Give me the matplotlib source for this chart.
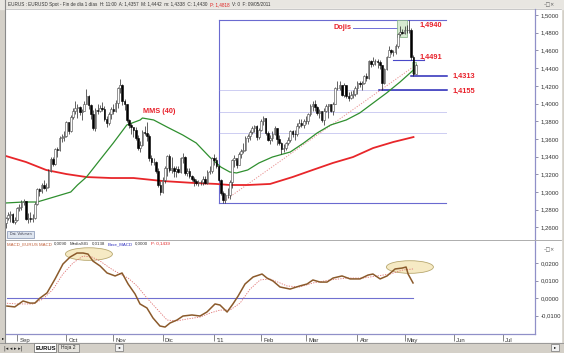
import numpy as np
import pandas as pd
import matplotlib
matplotlib.use("Agg")
import matplotlib.pyplot as plt
from matplotlib.patches import Rectangle, Ellipse
from matplotlib.transforms import blended_transform_factory

plt.rcParams["font.family"] = ["Liberation Sans", "DejaVu Sans"]

# ------------------------------------------------------------
# datos: EURUSD diario (25/08/2010 - 09/05/2011)
# ------------------------------------------------------------
first_date = "2010-08-25"
last_date = "2011-05-09"
first_open = 1.2650

closes = [
    1.2710, 1.2740, 1.2750, 1.2660, 1.2680,  # ago
    1.2820, 1.2830, 1.2890, 1.2900, 1.2690, 1.2710, 1.2690, 1.2710, 1.2870, 1.3030, 1.3010,
    1.3080, 1.3050, 1.3060, 1.3240, 1.3370, 1.3320, 1.3490, 1.3480, 1.3610, 1.3620, 1.3630,  # sep
    1.3790, 1.3690, 1.3850, 1.3910, 1.3950, 1.3960, 1.3900, 1.3920, 1.4000, 1.4090, 1.3980,
    1.3880, 1.3720, 1.3930, 1.3920, 1.3950, 1.3940, 1.3830, 1.3780, 1.3880, 1.3940,  # oct
    1.3920, 1.4010, 1.4180, 1.4210, 1.4030, 1.3990, 1.3810, 1.3760, 1.3740, 1.3700, 1.3610,
    1.3500, 1.3530, 1.3680, 1.3670, 1.3630, 1.3380, 1.3340, 1.3340, 1.3240, 1.3080, 1.3000,  # nov
    1.3130, 1.3270, 1.3410, 1.3250, 1.3270, 1.3240, 1.3260, 1.3230, 1.3380, 1.3390, 1.3210,
    1.3240, 1.3180, 1.3150, 1.3120, 1.3100, 1.3110, 1.3110, 1.3150, 1.3100, 1.3230, 1.3240, 1.3380,  # dic
    1.3360, 1.3290, 1.3140, 1.2990, 1.2910, 1.2970, 1.2970, 1.3110, 1.3360, 1.3380, 1.3310,
    1.3430, 1.3460, 1.3480, 1.3610, 1.3630, 1.3680, 1.3720, 1.3750, 1.3620, 1.3700,  # ene
    1.3800, 1.3840, 1.3670, 1.3590, 1.3610, 1.3660, 1.3720, 1.3600, 1.3550, 1.3490, 1.3500,
    1.3550, 1.3590, 1.3690, 1.3660, 1.3650, 1.3750, 1.3780, 1.3760, 1.3800,  # feb
    1.3800, 1.3880, 1.3970, 1.3990, 1.3960, 1.3890, 1.3910, 1.3810, 1.3920, 1.3970, 1.3990,
    1.3920, 1.4000, 1.4180, 1.4180, 1.4210, 1.4100, 1.4210, 1.4090, 1.4060, 1.4100, 1.4110, 1.4170,  # mar
    1.4230, 1.4220, 1.4230, 1.4310, 1.4290, 1.4480, 1.4450, 1.4480, 1.4480, 1.4470, 1.4430,
    1.4230, 1.4390, 1.4530, 1.4600, 1.4580, 1.4580, 1.4650, 1.4780, 1.4810, 1.4800,  # abr
    1.4830, 1.4830, 1.4830, 1.4530, 1.4330, 1.4430,  # may
]
highs = [
    1.2720, 1.2770, 1.2780, 1.2760, 1.2720,
    1.2830, 1.2860, 1.2910, 1.2920, 1.2900, 1.2760, 1.2770, 1.2750, 1.2890, 1.3050, 1.3050,
    1.3100, 1.3130, 1.3100, 1.3260, 1.3390, 1.3390, 1.3500, 1.3510, 1.3630, 1.3650, 1.3690,
    1.3800, 1.3790, 1.3870, 1.3950, 1.4030, 1.3990, 1.3970, 1.3940, 1.4030, 1.4160, 1.4100,
    1.3990, 1.3930, 1.3950, 1.4000, 1.3980, 1.4020, 1.3970, 1.3860, 1.3900, 1.3960,
    1.3990, 1.4040, 1.4190, 1.4280, 1.4220, 1.4050, 1.4000, 1.3830, 1.3780, 1.3740, 1.3730,
    1.3640, 1.3580, 1.3700, 1.3750, 1.3790, 1.3650, 1.3420, 1.3380, 1.3350, 1.3270, 1.3120,
    1.3170, 1.3290, 1.3420, 1.3430, 1.3400, 1.3290, 1.3290, 1.3290, 1.3400, 1.3440, 1.3410,
    1.3270, 1.3270, 1.3190, 1.3170, 1.3150, 1.3140, 1.3130, 1.3180, 1.3180, 1.3250, 1.3290, 1.3400,
    1.3430, 1.3400, 1.3300, 1.3150, 1.3010, 1.2990, 1.3040, 1.3130, 1.3370, 1.3420, 1.3360,
    1.3450, 1.3490, 1.3550, 1.3630, 1.3660, 1.3700, 1.3750, 1.3760, 1.3760, 1.3720,
    1.3820, 1.3860, 1.3840, 1.3690, 1.3640, 1.3690, 1.3750, 1.3720, 1.3640, 1.3560, 1.3540,
    1.3570, 1.3620, 1.3700, 1.3700, 1.3700, 1.3780, 1.3820, 1.3830, 1.3830,
    1.3860, 1.3890, 1.3990, 1.4030, 1.4040, 1.3970, 1.3940, 1.3910, 1.3950, 1.4000, 1.4000,
    1.4000, 1.4020, 1.4190, 1.4250, 1.4250, 1.4210, 1.4230, 1.4210, 1.4130, 1.4140, 1.4150, 1.4200,
    1.4250, 1.4250, 1.4250, 1.4320, 1.4340, 1.4490, 1.4490, 1.4520, 1.4500, 1.4500, 1.4490,
    1.4430, 1.4400, 1.4540, 1.4650, 1.4620, 1.4610, 1.4670, 1.4800, 1.4880, 1.4840,
    1.4880, 1.4890, 1.4940, 1.4850, 1.4550, 1.4442,
]
lows = [
    1.2590, 1.2680, 1.2660, 1.2650, 1.2640,
    1.2670, 1.2790, 1.2800, 1.2850, 1.2680, 1.2650, 1.2660, 1.2660, 1.2700, 1.2850, 1.2960,
    1.2990, 1.3030, 1.3010, 1.3040, 1.3230, 1.3290, 1.3310, 1.3400, 1.3460, 1.3570, 1.3580,
    1.3620, 1.3660, 1.3680, 1.3830, 1.3880, 1.3840, 1.3870, 1.3810, 1.3910, 1.3990, 1.3940,
    1.3830, 1.3700, 1.3690, 1.3880, 1.3900, 1.3920, 1.3800, 1.3740, 1.3760, 1.3820,
    1.3880, 1.3900, 1.3950, 1.4120, 1.3980, 1.3930, 1.3790, 1.3720, 1.3650, 1.3620, 1.3590,
    1.3470, 1.3450, 1.3520, 1.3640, 1.3580, 1.3350, 1.3300, 1.3300, 1.3220, 1.3060, 1.2970,
    1.2990, 1.3100, 1.3180, 1.3230, 1.3220, 1.3170, 1.3170, 1.3210, 1.3220, 1.3330, 1.3190,
    1.3180, 1.3160, 1.3120, 1.3070, 1.3080, 1.3070, 1.3080, 1.3080, 1.3090, 1.3090, 1.3200, 1.3220,
    1.3300, 1.3270, 1.3120, 1.2970, 1.2880, 1.2874, 1.2930, 1.2920, 1.3050, 1.3280, 1.3270,
    1.3300, 1.3380, 1.3440, 1.3460, 1.3570, 1.3590, 1.3650, 1.3680, 1.3590, 1.3600,
    1.3690, 1.3760, 1.3640, 1.3580, 1.3540, 1.3580, 1.3640, 1.3530, 1.3530, 1.3430, 1.3450,
    1.3480, 1.3530, 1.3570, 1.3620, 1.3590, 1.3630, 1.3720, 1.3740, 1.3720,
    1.3770, 1.3770, 1.3860, 1.3920, 1.3920, 1.3870, 1.3840, 1.3790, 1.3760, 1.3900, 1.3840,
    1.3900, 1.3870, 1.4000, 1.4150, 1.4150, 1.4090, 1.4070, 1.4060, 1.4030, 1.4050, 1.4060, 1.4090,
    1.4110, 1.4190, 1.4150, 1.4220, 1.4250, 1.4280, 1.4410, 1.4420, 1.4430, 1.4400, 1.4390,
    1.4155, 1.4220, 1.4380, 1.4520, 1.4560, 1.4540, 1.4560, 1.4630, 1.4760, 1.4780,
    1.4780, 1.4800, 1.4800, 1.4491, 1.4313, 1.4338,
]

# medias moviles (indice de dia habil desde 01/09/2010, precio)
ma40_idx = [-5, 3, 9, 15, 24, 27, 31, 37, 43, 49, 55, 56, 61, 67, 74, 80, 86, 91, 95,
            98, 103, 108, 114, 122, 128, 134, 140, 147, 153, 159, 165, 171, 177]
ma40_val = [1.2876, 1.2887, 1.2887, 1.2932, 1.3000, 1.3079, 1.3169, 1.3362, 1.3554, 1.3757,
            1.3814, 1.3836, 1.3814, 1.3734, 1.3644, 1.3554, 1.3395, 1.3282, 1.3226, 1.3215,
            1.3249, 1.3328, 1.3395, 1.3452, 1.3554, 1.3667, 1.3757, 1.3814, 1.3893, 1.4006,
            1.4119, 1.4243, 1.4379]
ma200_idx = [-5, 4, 13, 22, 31, 42, 52, 65, 79, 89, 95, 103, 113, 123, 132, 141, 150,
             159, 168, 177]
ma200_val = [1.3407, 1.3339, 1.3249, 1.3203, 1.3169, 1.3158, 1.3158, 1.3124, 1.3102, 1.3091,
             1.3079, 1.3079, 1.3091, 1.3169, 1.3249, 1.3328, 1.3395, 1.3497, 1.3565, 1.3621]

# MACD y señal
macd_idx = [-4.5, -1, 2.7, 5.8, 8, 10.3, 13.4, 17, 20.5, 23.7, 26.8, 29.5, 31.7, 33.9, 37.1,
            40.2, 43.8, 46.9, 49.6, 52.7, 54.9, 58, 60.7, 63.8, 66.1, 68.3, 71.4, 74.1, 78.1,
            81.7, 84.8, 88.4, 90.6, 93.8, 96.4, 98.7, 101.8, 105.4, 109.4, 111.6, 114.3,
            117.4, 121.9, 126.3, 129.5, 132.1, 135.3, 138.4, 141.1, 145.1, 148.7, 153.1,
            156.7, 158.9, 162.1, 165.2, 168.8, 171.9, 173.7, 174.6, 176.8]
macd_val = [-0.0046, -0.0051, -0.0017, -0.0029, -0.0029, 0.0000, 0.0029, 0.0109, 0.0194,
            0.0234, 0.0257, 0.0257, 0.0251, 0.0211, 0.0183, 0.0143, 0.0126, 0.0143, 0.0080,
            0.0023, -0.0034, -0.0057, -0.0114, -0.0160, -0.0166, -0.0143, -0.0126, -0.0103,
            -0.0097, -0.0103, -0.0080, -0.0034, -0.0040, -0.0080, -0.0034, 0.0011, 0.0080,
            0.0120, 0.0137, 0.0114, 0.0097, 0.0063, 0.0051, 0.0069, 0.0080, 0.0103, 0.0091,
            0.0091, 0.0114, 0.0126, 0.0109, 0.0109, 0.0131, 0.0137, 0.0109, 0.0126, 0.0166,
            0.0171, 0.0177, 0.0137, 0.0086]
signal_idx = [-4.5, 0, 7.1, 11.6, 16.1, 20.5, 25, 29.5, 33.5, 37.1, 41.5, 46, 49.6, 53.6,
              58, 62.5, 67, 71.4, 75.9, 81.7, 86.2, 90.6, 95.1, 99.6, 104, 108.5, 112.9,
              117.4, 120.5, 126.3, 132.1, 139.7, 147.3, 154.5, 160.7, 166.5, 172.3, 176.8]
signal_val = [-0.0030, -0.0034, -0.0034, -0.0006, 0.0050, 0.0137, 0.0200, 0.0240, 0.0234,
              0.0211, 0.0171, 0.0137, 0.0114, 0.0069, 0.0000, -0.0063, -0.0126, -0.0131,
              -0.0120, -0.0109, -0.0086, -0.0069, -0.0069, -0.0029, 0.0050, 0.0103, 0.0109,
              0.0086, 0.0069, 0.0063, 0.0086, 0.0103, 0.0114, 0.0114, 0.0126, 0.0137, 0.0160,
              0.0166]

# niveles marcados
swing_low = 1.2874
swing_high = 1.4940
fibo_levels = [1.4151, 1.3907, 1.3663]
level_labels = ["1,4940", "1,4491", "1,4313", "1,4155"]

month_labels = ["Sep", "Oct", "Nov", "Dic", "'11", "Feb", "Mar", "Abr", "May", "Jun", "Jul"]
month_starts = ["2010-09-01", "2010-10-01", "2010-11-01", "2010-12-01", "2011-01-03",
                "2011-02-01", "2011-03-01", "2011-04-01", "2011-05-02", "2011-06-01",
                "2011-07-01"]

price_ticks = [1.26, 1.28, 1.30, 1.32, 1.34, 1.36, 1.38, 1.40, 1.42, 1.44, 1.46, 1.48, 1.50]
macd_ticks = [-0.01, 0.0, 0.01, 0.02]

title_parts = [("EURUS : EURUSD Spot - Fin de día 1 días  H: 11:00  A: 1,4357  M: 1,4442  "
                "m: 1,4338  C: 1,4430", "#333333"),
               ("P: 1,4818", "#e02020"),
               ("V: 0  F: 09/05/2011", "#333333")]
macd_parts = [("MACD_EURUS MACD", "#c0603a"), ("0,0090", "#333333"),
              ("MediaSIG", "#333333"), ("0,0138", "#333333"),
              ("Base_MACD", "#3030c0"), ("0,0000", "#333333"),
              ("P: 0,1439", "#e02020")]

"""==============================================================
# preparar
=============================================================="""
dates = pd.bdate_range(first_date, last_date)
origin = np.datetime64("2010-09-01")
xpos = np.busday_count(origin, dates.values.astype("datetime64[D]"))
closes = np.array(closes)
highs = np.array(highs)
lows = np.array(lows)
opens = np.concatenate([[first_open], closes[:-1]])
month_pos = np.busday_count(origin, np.array(month_starts, dtype="datetime64[D]"))

W, H = 564, 353


def box(x0, y0, x1, y1):
    return [x0 / W, 1 - y1 / H, (x1 - x0) / W, (y1 - y0) / H]


def fmt(v):
    return f"{v:.4f}".replace(".", ",")


fig = plt.figure(figsize=(W / 100, H / 100), dpi=100, facecolor="#d4d0c8")
renderer = fig.canvas.get_renderer()


def text_row(ax, x, y, parts, size, gap):
    # escribe trozos de texto uno detras de otro
    for txt, col in parts:
        t = ax.text(x, y, txt, fontsize=size, va="center", color=col)
        bb = t.get_window_extent(renderer=renderer)
        x = x + bb.width + gap


# fondo (ventana)
bg = fig.add_axes([0, 0, 1, 1])
bg.set_xlim(0, W)
bg.set_ylim(H, 0)
bg.axis("off")
bg.add_patch(Rectangle((0, 0), W, 9, color="#e8e6e1"))
bg.add_patch(Rectangle((6, 9), 555, 230, color="white"))
bg.add_patch(Rectangle((6, 240), 555, 103, color="white"))
bg.plot([5, 5], [0, 343], color="#8a8a8a", lw=0.8)
bg.plot([6, 561], [240, 240], color="#a0a0a0", lw=0.6)
bg.plot([6, 561], [9, 9], color="#b0b0b0", lw=0.5)
text_row(bg, 8, 4.5, title_parts, 3.3, 2.5)
bg.text(544, 4.5, "–□×", fontsize=3.5, va="center", color="#555555", family="DejaVu Sans")
bg.text(544, 250, "–□×", fontsize=3.5, va="center", color="#555555", family="DejaVu Sans")

# leyenda MACD
text_row(bg, 7, 244, macd_parts, 3.2, 2.5)

# boton volumen
bg.add_patch(Rectangle((7, 231), 27, 6.5, facecolor="#dfe6f0", edgecolor="#8090b0", lw=0.5))
bg.text(20.5, 234.3, "Dat. Volumen", fontsize=2.6, ha="center", va="center", color="#334")

# barra de pestañas
bg.add_patch(Rectangle((0, 343), W, 10, color="#d4d0c8"))
bg.plot([0, W], [343, 343], color="#909090", lw=0.6)
bg.text(4, 348, "|◂ ◂ ▸ ▸|", fontsize=3.6, va="center", color="#222222", family="DejaVu Sans")
bg.add_patch(Rectangle((34, 343), 22, 9, facecolor="white", edgecolor="#666666", lw=0.5))
bg.text(36, 348, "EURUS", fontsize=4.2, va="center", weight="bold", color="#111111")
bg.add_patch(Rectangle((58, 344), 21, 8, facecolor="#e4e2dc", edgecolor="#777777", lw=0.5))
bg.text(61, 348, "Hoja 2", fontsize=3.6, va="center", color="#222222")
bg.add_patch(Rectangle((115, 344), 8, 7, facecolor="#f0f0f0", edgecolor="#777777", lw=0.5))
bg.text(119, 347.5, "◂", fontsize=3.2, ha="center", va="center", family="DejaVu Sans")
bg.add_patch(Rectangle((551, 344), 8, 7, facecolor="#f0f0f0", edgecolor="#777777", lw=0.5))
bg.text(555, 347.5, "▸", fontsize=3.2, ha="center", va="center", family="DejaVu Sans")
bg.text(3, 338, "▸", fontsize=3.2, ha="center", va="center", family="DejaVu Sans")

"""==============================================================
# panel de precios
=============================================================="""
ax1 = fig.add_axes(box(6, 9, 535, 239))
ax1.set_facecolor("none")
x_left, x_right = -4.91, 231.25
ax1.set_xlim(x_left, x_right)
ax1.set_ylim(1.5 - 224 / 885, 1.5 + 6 / 885)

# rectangulo del movimiento y retrocesos
span = [90.2, 191.5]
box_col = "#6a6ad0"
ax1.plot(span, [swing_high, swing_high], color=box_col, lw=0.8)
ax1.plot(span, [swing_low, swing_low], color=box_col, lw=0.8)
ax1.plot([span[0], span[0]], [swing_low, swing_high], color=box_col, lw=0.8)
for lv in fibo_levels:
    ax1.plot(span, [lv, lv], color="#8c8ce0", lw=0.6, linestyle=(0, (1.2, 1.2)))

# niveles de soporte
ax1.plot([150, 170.5], [1.4853, 1.4853], color="#7070d8", lw=0.7)
ax1.plot([167.9, 181.7], [1.4491, 1.4491], color="#4848c8", lw=0.8)
ax1.plot([175.9, 192], [1.4311, 1.4311], color="#2a2ab8", lw=1.1)
ax1.plot([161.6, 192], [1.4153, 1.4153], color="#2a2ab8", lw=1.1)

# directriz alcista
ax1.plot([92.4, 176.8], [1.2898, 1.4412], color="#e89090", lw=0.7, linestyle=(0, (1.2, 1.5)))

# medias moviles
ax1.plot(ma200_idx, ma200_val, color="#e8262a", lw=1.3, zorder=3)
ax1.plot(ma40_idx, ma40_val, color="#2f8f2f", lw=0.9, zorder=3)

# recuadros de las velas
ax1.add_patch(Rectangle((169.5, 1.4751), 4.7, 0.0189, facecolor="#d6ead0",
                        edgecolor="#80b080", lw=0.5, zorder=2))
ax1.add_patch(Rectangle((176.3, 1.4344), 1.9, 0.0125, facecolor="#d6ead0",
                        edgecolor="#80b080", lw=0.5, zorder=2))

# velas
up = closes >= opens
ax1.vlines(xpos, lows, highs, color="#222222", lw=0.5, zorder=4)
ax1.bar(xpos[up], (closes - opens)[up], bottom=opens[up], width=0.7,
        color="white", edgecolor="#444444", linewidth=0.4, zorder=5)
ax1.bar(xpos[~up], (opens - closes)[~up], bottom=closes[~up], width=0.7,
        color="black", edgecolor="black", linewidth=0.4, zorder=5)

# etiquetas
lab = dict(color="#e8202a", fontsize=5.3, weight="bold", va="center")
ax1.text(141.1, 1.4864, "Dojis", **lab)
ax1.text(179.9, 1.4887, level_labels[0], **lab)
ax1.text(179.9, 1.4525, level_labels[1], **lab)
ax1.text(194.2, 1.4311, level_labels[2], **lab)
ax1.text(194.2, 1.4141, level_labels[3], **lab)
ax1.text(56.3, 1.3904, "MMS (40)", **lab)

ax1.yaxis.tick_right()
ax1.set_yticks(price_ticks)
ax1.set_yticklabels([fmt(t) for t in price_ticks])
ax1.tick_params(axis="y", labelsize=4.3, length=2.5, width=0.5, color="#666688",
                labelcolor="#333333", pad=1.5)
ax1.set_xticks([])
for s in ["top", "left", "bottom"]:
    ax1.spines[s].set_visible(False)
ax1.spines["right"].set_color("#9090c8")
ax1.spines["right"].set_linewidth(0.9)

"""==============================================================
# panel MACD
=============================================================="""
ax2 = fig.add_axes(box(6, 241, 535, 334))
ax2.set_facecolor("none")
ax2.set_xlim(x_left, x_right)
ax2.set_ylim((298 - 334) / 1750, (298 - 241) / 1750)

ax2.plot([-4.5, 176.8], [0, 0], color="#7070d0", lw=0.8)
ax2.add_patch(Ellipse((32.1, 0.0251), 21, 0.0072, facecolor="#f6eac4",
                      edgecolor="#b8a870", lw=0.6, zorder=1))
ax2.add_patch(Ellipse((175.4, 0.0177), 21, 0.0072, facecolor="#f6eac4",
                      edgecolor="#b8a870", lw=0.6, zorder=1))
ax2.plot(signal_idx, signal_val, color="#e07070", lw=0.6, linestyle=(0, (1.5, 1.5)), zorder=2)
ax2.plot(macd_idx, macd_val, color="#8b5a2b", lw=1.1, zorder=3)

ax2.yaxis.tick_right()
ax2.set_yticks(macd_ticks)
ax2.set_yticklabels([fmt(t) for t in macd_ticks])
ax2.tick_params(axis="y", labelsize=4.3, length=2.5, width=0.5, color="#666688",
                labelcolor="#333333", pad=1.5)
ax2.set_xticks(month_pos)
ax2.tick_params(axis="x", length=5, width=0.5, color="#555555", labelbottom=False)
trans = blended_transform_factory(ax2.transData, ax2.transAxes)
for pos, name in zip(month_pos, month_labels):
    ax2.text(pos + 1.0, -0.065, name, transform=trans, fontsize=4.3,
             va="center", color="#333333")
for s in ["top", "left"]:
    ax2.spines[s].set_visible(False)
for s in ["right", "bottom"]:
    ax2.spines[s].set_color("#9090c8")
    ax2.spines[s].set_linewidth(0.9)

fig.savefig("out.png", dpi=100, facecolor=fig.get_facecolor())
